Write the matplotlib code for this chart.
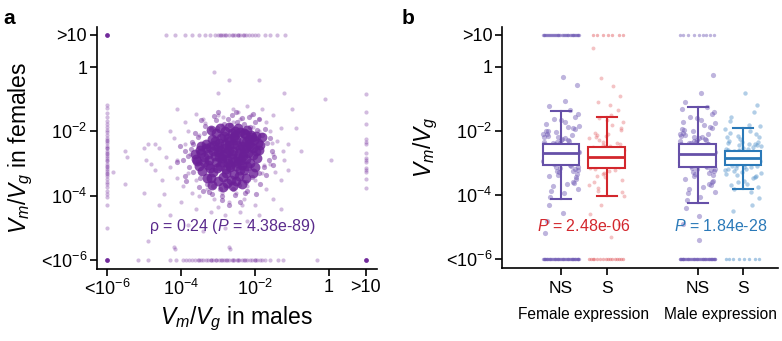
import matplotlib
matplotlib.use('Agg')
import matplotlib.pyplot as plt
import numpy as np

plt.rcParams['font.family'] = ['Liberation Sans', 'DejaVu Sans']
plt.rcParams['mathtext.fontset'] = 'custom'
plt.rcParams['mathtext.rm'] = 'Liberation Sans'
plt.rcParams['mathtext.it'] = 'Liberation Sans:italic'
plt.rcParams['mathtext.bf'] = 'Liberation Sans:bold'

# ---- panel a: log10(Vm/Vg), males (x) vs females (y); -6 = "<1e-6", 1 = ">10"
core_x = [-2.62, -2.41, -2.88, -2.15, -3.05, -2.53, -2.77, -2.24, -3.21, -1.98, -2.69, -2.36, -3.37, -2.92,
          -2.08, -2.57, -3.12, -1.86, -2.81, -2.46, -3.49, -2.19, -2.72, -3.01, -2.33, -2.61, -1.93, -3.28,
          -2.85, -2.29, -3.56, -2.49, -2.97, -2.12, -3.16, -2.67, -2.02, -3.42, -2.39, -2.78, -2.55, -3.09,
          -1.81, -2.25, -3.63, -2.93, -2.43, -2.71, -3.31, -2.05, -2.84, -3.19, -2.58, -2.31, -3.45, -2.95,
          -2.17, -2.64, -3.03, -1.91, -2.74, -2.47, -3.24, -2.21, -2.87, -3.52, -2.35, -2.06, -2.99, -2.51,
          -3.14, -2.79, -2.27, -3.38, -2.63, -1.88, -2.41, -3.07, -2.69, -2.13, -3.27, -2.90, -2.44, -2.56,
          -3.60, -2.01, -2.82, -3.22, -2.37, -2.68, -2.96, -2.23, -3.33, -2.52, -1.96, -2.76, -3.10, -2.30,
          -2.60, -3.46,
          -3.20, -2.95, -2.70, -2.45, -2.20, -3.05, -2.80, -2.55, -2.30, -2.10, -3.30, -3.00, -2.75, -2.50,
          -2.25, -3.15, -2.85, -2.60, -2.35, -2.05]
core_y = [-2.71, -2.55, -2.83, -2.38, -2.95, -2.12, -3.18, -2.86, -2.47, -2.61, -2.31, -3.04, -2.79, -2.19,
          -2.17, -3.32, -3.26, -2.42, -2.52, -2.83, -2.58, -2.68, -2.97, -2.64, -2.29, -2.04, -2.84, -3.05,
          -3.41, -3.21, -2.93, -2.41, -2.36, -2.99, -2.22, -3.12, -2.27, -3.22, -2.01, -2.67, -2.92, -2.77,
          -2.18, -2.51, -2.71, -3.07, -3.38, -2.43, -2.38, -2.53, -2.15, -3.44, -2.62, -2.76, -2.44, -2.58,
          -2.24, -3.51, -3.13, -2.35, -2.21, -2.97, -2.89, -3.09, -2.74, -3.08, -2.45, -2.74, -2.49, -2.28,
          -2.61, -3.28, -2.09, -2.96, -2.84, -2.59, -3.19, -2.29, -2.58, -2.45, -2.71, -2.94, -2.67, -2.18,
          -2.86, -3.11, -2.39, -3.15, -2.88, -3.03, -2.81, -2.32, -2.53, -3.06, -2.13, -2.87, -2.43, -2.64,
          -2.38, -2.67,
          -1.95, -1.88, -1.85, -1.90, -1.97, -2.05, -1.98, -2.00, -2.05, -2.10, -3.45, -3.55, -3.60, -3.55,
          -3.45, -3.68, -3.72, -3.70, -3.62, -3.30]
# fringe of the dense cloud
mid_x = [-3.72, -3.55, -3.81, -3.66, -3.48, -3.30, -3.12, -2.95, -2.78, -2.60, -2.42, -2.25, -2.08, -1.90,
         -1.74, -1.62, -1.55, -1.68, -1.80, -1.95, -2.12, -2.30, -2.48, -2.66, -2.84, -3.02, -3.20, -3.38,
         -3.55, -3.70, -3.88, -3.95, -3.40, -3.15, -2.90, -2.55, -2.20, -1.85, -1.70, -2.00, -2.35, -2.72,
         -3.05, -3.35, -3.62, -3.78, -4.02, -3.90, -1.48, -1.58, -2.15, -2.62, -3.10, -3.52, -1.72, -2.88,
         -3.25, -2.40, -1.98, -3.68, -4.10, -1.50, -2.50, -3.00, -3.85, -2.28, -1.88, -3.45, -2.70, -2.05]
mid_y = [-2.55, -2.95, -2.75, -3.25, -3.45, -3.62, -3.70, -3.78, -3.72, -3.80, -3.66, -3.58, -3.42, -3.30,
         -3.10, -2.88, -2.62, -2.35, -2.12, -1.95, -1.85, -1.78, -1.72, -1.80, -1.76, -1.88, -1.92, -2.05,
         -2.18, -2.32, -2.62, -2.88, -3.85, -3.95, -4.02, -3.98, -3.86, -3.62, -3.35, -1.70, -1.58, -1.60,
         -1.65, -1.82, -2.05, -3.12, -2.45, -3.40, -2.80, -2.20, -1.55, -1.48, -1.52, -3.72, -1.92, -4.12,
         -3.88, -4.18, -3.95, -2.40, -2.95, -3.05, -1.40, -1.40, -3.55, -3.90, -1.62, -1.65, -4.30, -1.45]
halo_x = [-3.9, -4.1, -3.8, -4.3, -3.95, -3.7, -4.5, -3.5, -3.3, -3.1, -2.9, -2.7, -2.5, -2.3, -2.2, -2.0,
          -1.8, -1.6, -1.5, -1.4, -1.6, -1.7, -1.9, -2.1, -2.4, -2.6, -2.9, -3.2, -3.5, -3.8, -4.2, -4.6,
          -4.4, -4.8, -4.0, -3.6, -3.2, -2.8, -2.4, -2.0, -1.7, -1.3, -1.2, -1.1, -1.3, -1.5, -1.8, -2.2,
          -2.6, -3.0, -3.4, -3.9, -1.0, -1.2, -3.0, -2.7, -1.9, -3.1, -4.1, -0.1, 0.05, -0.75, -0.9, -4.9,
          -4.7, -5.0, -4.3, -3.8, -3.4, -2.8, -2.2, -4.9, -4.2, -2.7, -1.9, -1.5, -3.6, -1.9, -3.35, -1.75,
          -4.1, -1.25, -2.35, -3.0, -4.45, -3.75, -1.55, -2.45, -2.85, -1.45, -4.6, -1.1, -2.05, -3.6, -1.3,
          -5.5, -5.45, -5.0, -4.7, -5.85, -5.5, -4.95, -4.3]
halo_y = [-2.4, -2.9, -3.3, -3.1, -3.7, -3.9, -3.5, -4.0, -3.8, -4.1, -3.9, -4.2, -3.9, -4.1, -3.7, -3.5,
          -3.3, -3.0, -2.7, -2.3, -2.0, -1.7, -1.6, -1.5, -1.6, -1.7, -1.8, -1.9, -2.1, -2.0, -2.2, -2.5,
          -2.8, -3.0, -4.2, -4.4, -4.5, -4.6, -4.5, -4.3, -3.8, -3.5, -2.9, -2.4, -1.9, -1.5, -1.3, -1.2,
          -1.3, -1.5, -1.6, -1.7, -1.3, -0.8, -0.8, -0.4, -0.4, -0.15, -1.3, -1.0, -2.9, -2.6, -1.9, -2.4,
          -3.2, -3.9, -4.6, -4.9, -5.1, -5.0, -4.8, -5.4, -5.6, -5.6, -4.6, -4.1, -3.5, -2.0, -1.75, -3.05,
          -3.45, -2.6, -4.3, -4.35, -3.95, -2.7, -2.35, -1.4, -1.55, -3.25, -4.3, -3.2, -1.85, -1.45, -4.4,
          -2.6, -2.8, -2.5, -2.4, -3.25, -3.65, -2.9, -2.0]
top_row_x = [-4.39, -4.16, -3.89, -3.71, -3.5, -3.35, -3.22, -3.08, -3.0, -2.92, -2.85, -2.78, -2.7, -2.62,
             -2.55, -2.47, -2.4, -2.32, -2.25, -2.17, -2.09, -2.0, -1.91, -1.73, -1.59, -1.41, -1.19,
             -2.95, -2.8, -2.6, -2.45, -2.3]
bottom_row_x = [-5.15, -4.88, -4.30, -4.12, -3.94, -3.85, -3.77, -3.7, -3.62, -3.55, -3.47, -3.4, -3.33,
                -3.26, -3.19, -3.12, -3.05, -2.98, -2.91, -2.84, -2.77, -2.7, -2.63, -2.56, -2.49, -2.42,
                -2.35, -2.28, -2.21, -2.14, -2.07, -2.0, -1.93, -1.86, -1.8, -1.73, -1.59, -1.38, -1.24,
                -0.31, -3.5, -3.2, -2.9, -2.6, -2.3, -2.0, -2.75, -3.05, -2.45]
above_bottom_x = [-4.16, -2.68]
above_bottom_y = [-5.67, -5.67]
left_col_y = [-1.18, -1.27, -1.43, -1.55, -1.66, -1.78, -1.86, -1.95, -2.03, -2.12, -2.2, -2.28, -2.36,
              -2.44, -2.52, -2.6, -2.68, -2.76, -2.84, -2.92, -3.0, -3.08, -3.16, -3.24, -3.32, -3.4, -3.48,
              -3.56, -3.64, -3.73, -3.85, -3.95, -4.04, -4.29, -5.0, -2.3, -2.5, -2.7, -2.9, -3.1, -3.3]
right_col_y = [-0.84, -1.41, -1.78, -2.24, -2.32, -2.39, -2.67, -2.83, -2.89, -2.95, -3.14, -3.2, -3.26,
               -3.48, -3.76]
corner_x = [-6, -6, 1]
corner_y = [1, -6, -6]

# ---- panel b: groups, box statistics (log10) and jittered points
groups = ['NS', 'S', 'NS', 'S']
positions = [1, 2, 4, 5]
whis_hi = [-1.39, -1.56, -1.26, -1.92]
q3 = [-2.40, -2.51, -2.40, -2.62]
med = [-2.70, -2.80, -2.72, -2.84]
q1 = [-3.07, -3.15, -3.13, -3.07]
whis_lo = [-4.11, -4.03, -4.25, -3.80]
top_counts = [40, 7, 9, 0]
bottom_counts = [50, 16, 50, 8]

ns_f_y = [-2.71, -2.45, -2.93, -2.18, -3.21, -2.62, -2.84, -2.33, -3.05, -2.57, -1.95, -3.42, -2.76, -2.51,
          -2.12, -3.15, -2.66, -2.39, -2.98, -1.78, -3.63, -2.88, -2.27, -2.55, -3.33, -2.04, -2.69, -2.41,
          -3.09, -1.62, -3.82, -2.8, -2.22, -2.6, -3.26, -2.47, -1.88, -2.95, -3.51, -2.35, -2.74, -2.08,
          -3.01, -2.53, -1.48, -4.05, -2.64, -2.29, -3.18, -2.86, -1.71, -3.72, -2.43, -2.15, -2.91, -3.37,
          -2.58, -1.99, -2.78, -3.12, -2.25, -4.32, -1.35, -2.68, -3.45, -2.37, -2.83, -2.01, -3.58, -2.49,
          -1.83, -3.24, -2.72, -2.19, -3.94, -2.6, -1.56, -3.03, -2.31, -2.89, -4.55, -1.21, -2.66, -3.29,
          -2.44, -2.1, -3.67, -2.76, -1.92, -2.97, -0.55, -4.8, -1.05, -3.88, -2.52, -1.67, -3.14, -2.4,
          -0.3, -5.2]
s_f_y = [-2.8, -2.52, -3.11, -2.34, -2.97, -3.4, -2.65, -2.21, -3.22, -2.73, -1.98, -3.6, -2.46, -2.88,
         -3.05, -2.15, -2.59, -3.78, -1.82, -2.95, -2.4, -3.3, -2.7, -2.05, -3.52, -2.61, -1.65, -3.15,
         -2.83, -2.28, -4.02, -2.5, -1.5, -3.45, -2.92, -2.12, -2.77, -3.68, -1.9, -2.43, -3.25, -2.66,
         -1.35, -4.3, -2.85, -2.19, -3.0, -2.55, -0.9, -4.6, -1.2, -3.88, -2.37, -2.99, -1.72, -3.35, -0.6,
         -2.62, -4.9, -0.35, -2.08, -3.18, -2.74, -1.58, -3.92, -2.47, -5.3, 0.6, -2.9, -1.1]
ns_m_y = [-2.72, -2.48, -2.96, -2.2, -3.25, -2.6, -2.87, -2.3, -3.1, -2.55, -1.9, -3.5, -2.78, -2.45,
          -2.1, -3.2, -2.66, -2.36, -3.02, -1.72, -3.7, -2.9, -2.25, -2.52, -3.38, -2.0, -2.7, -2.4,
          -3.14, -1.55, -3.9, -2.82, -2.18, -2.62, -3.3, -2.44, -1.82, -2.98, -3.6, -2.32, -2.76, -2.05,
          -3.06, -2.5, -1.4, -4.15, -2.64, -2.27, -3.22, -2.88, -1.65, -3.8, -2.42, -2.12, -2.94, -3.42,
          -2.56, -1.95, -2.8, -3.16, -2.22, -4.4, -1.25, -2.68, -3.55, -2.34, -2.85, -1.98, -3.66, -2.47,
          -1.76, -3.28, -2.74, -2.15, -4.05, -2.58, -1.48, -3.08, -2.28, -2.92, -4.65, -1.1, -2.65, -3.34,
          -2.4, -2.08, -3.75, -2.79, -1.88, -3.0, -0.25, -4.9, -0.8, -3.95, -2.54, -1.6, -3.18, -2.38,
          -5.4, -1.3]
s_m_y = [-2.84, -2.7, -3.0, -2.62, -2.95, -2.77, -3.12, -2.55, -2.88, -3.05, -2.45, -2.81, -3.2, -2.68,
         -2.91, -2.35, -3.3, -2.74, -2.99, -2.58, -3.42, -2.25, -2.86, -3.09, -2.66, -2.15, -3.55, -2.79,
         -2.5, -3.15, -2.93, -2.05, -3.65, -2.72, -2.4, -3.25, -2.83, -1.95, -3.75, -2.6, -3.02, -2.3,
         -2.89, -3.38, -1.85, -2.76, -3.9, -2.52, -3.08, -2.2, -2.97, -2.64, -3.48, -1.7, -4.1, -2.8,
         -2.42, -3.18, -2.1, -3.6, -2.71, -1.55, -4.3, -2.87, -2.33, -3.28, -2.57, -3.0, -1.4, -3.82,
         -2.48, -2.92, -2.0, -3.35, -2.78, -4.5, -1.2, -2.65, -3.12, -2.38, -0.8, -3.7, -2.18, -2.96,
         -2.61, -3.22, -1.8, -2.85, -3.45, -2.44]
jitter = [0.12, -0.31, 0.27, -0.08, 0.36, -0.22, 0.03, -0.38, 0.19, -0.14, 0.31, -0.27, 0.07, -0.35, 0.23,
          -0.02, 0.39, -0.18, 0.11, -0.33, 0.29, -0.06, 0.16, -0.25, 0.34, -0.11, 0.01, -0.37, 0.21, -0.16,
          0.38, -0.29, 0.09, -0.04, 0.26, -0.21, 0.14, -0.39, 0.32, -0.09, 0.05, -0.32, 0.24, -0.13, 0.37,
          -0.24, 0.17, -0.01, 0.3, -0.36, 0.08, -0.19, 0.22, -0.28, 0.35, -0.07, 0.13, -0.34, 0.28, -0.12,
          0.02, -0.26, 0.2, -0.17, 0.33, -0.03, 0.1, -0.3, 0.25, -0.2, 0.39, -0.1, 0.15, -0.37, 0.06, -0.23,
          0.31, -0.15, 0.18, -0.33, 0.04, -0.27, 0.36, -0.05, 0.22, -0.39, 0.12, -0.18, 0.27, -0.09, 0.34,
          -0.31, 0.08, -0.22, 0.19, -0.01, 0.38, -0.14, 0.03, -0.35]
p_labels = ['2.48e-06', '1.84e-28']

purple = '#6a1f96'
bpurple = '#6650a8'
red = '#d3272d'
blue = '#2a79b8'
box_colors = [bpurple, red, bpurple, blue]
point_colors = ['#6f5ab5', '#e0555a', '#6f5ab5', '#3f86c4']
point_alpha = [0.45, 0.35, 0.45, 0.4]
point_size = [14, 8, 14, 10]

ticks_y = [1, 0, -2, -4, -6]
tick_lbls = ['>10', '1', r'$10^{-2}$', r'$10^{-4}$', r'<$10^{-6}$']
ticks_x = [-6, -4, -2, 0, 1]
tick_lbls_x = [r'<$10^{-6}$', r'$10^{-4}$', r'$10^{-2}$', '1', '>10']

fig = plt.figure(figsize=(7.82, 3.41), dpi=100)
ax = fig.add_axes([0.124, 0.211, 0.358, 0.710])
bx = fig.add_axes([0.642, 0.214, 0.353, 0.707])

for a in (ax, bx):
    for s in ('top', 'right'):
        a.spines[s].set_visible(False)
    for s in ('left', 'bottom'):
        a.spines[s].set_linewidth(1.2)
    a.tick_params(direction='out', length=5, width=1.2, labelsize=13, pad=2)
    a.set_ylim(-6.28, 1.25)
    a.set_yticks(ticks_y)
    a.set_yticklabels(tick_lbls)

# panel a
ax.scatter(halo_x, halo_y, s=9, color=purple, alpha=0.3, lw=0)
ax.scatter(mid_x, mid_y, s=14, color=purple, alpha=0.45, lw=0)
ax.scatter(core_x, core_y, s=50, color=purple, alpha=0.8, lw=0)
ax.scatter(top_row_x, [1] * len(top_row_x), s=9, color=purple, alpha=0.3, lw=0, clip_on=False)
ax.scatter(bottom_row_x, [-6] * len(bottom_row_x), s=9, color=purple, alpha=0.3, lw=0)
ax.scatter(above_bottom_x, above_bottom_y, s=9, color=purple, alpha=0.3, lw=0)
ax.scatter([-6] * len(left_col_y), left_col_y, s=9, color=purple, alpha=0.3, lw=0)
ax.scatter([1] * len(right_col_y), right_col_y, s=9, color=purple, alpha=0.3, lw=0)
ax.scatter(corner_x, corner_y, s=12, color=purple, alpha=0.95, lw=0)
ax.set_xlim(-6.27, 1.3)
ax.set_xticks(ticks_x)
ax.set_xticklabels(tick_lbls_x)
ax.set_xlabel(r'$V_m/V_g$ in males', fontsize=16.5, labelpad=4)
ax.set_ylabel(r'$V_m/V_g$ in females', fontsize=16.5, labelpad=4)
ax.text(-2.6, -4.97, r'ρ = 0.24 ($P$ = 4.38e-89)', color='#5a2a8c', fontsize=11.5,
        ha='center', va='center')
fig.text(0.004, 0.975, 'a', fontsize=15, fontweight='bold', va='top')

# panel b
groups_y = [ns_f_y, s_f_y, ns_m_y, s_m_y]
for i, (pos, ys) in enumerate(zip(positions, groups_y)):
    xs = [pos + j for j in jitter[:len(ys)]]
    bx.scatter(xs, ys, s=point_size[i], color=point_colors[i], alpha=point_alpha[i], lw=0, zorder=1)
    tx = [pos + j for j in jitter[:top_counts[i]]]
    bx.scatter(tx, [1] * len(tx), s=6, color=point_colors[i], alpha=0.45, lw=0, zorder=1)
    bo = [pos + j for j in jitter[:bottom_counts[i]]]
    bx.scatter(bo, [-6] * len(bo), s=6, color=point_colors[i], alpha=0.45, lw=0, zorder=1)

stats = []
for i in range(len(positions)):
    stats.append({'med': med[i], 'q1': q1[i], 'q3': q3[i], 'whislo': whis_lo[i],
                  'whishi': whis_hi[i], 'fliers': []})
art = bx.bxp(stats, positions=positions, widths=0.8, capwidths=0.44, patch_artist=True,
             showfliers=False, manage_ticks=False)
for i in range(len(positions)):
    c = box_colors[i]
    art['boxes'][i].set(facecolor='white', edgecolor=c, linewidth=1.5, zorder=3)
    art['medians'][i].set(color=c, linewidth=2.0, zorder=4)
    for w in art['whiskers'][2 * i:2 * i + 2]:
        w.set(color=c, linewidth=1.5, zorder=2)
    for cp in art['caps'][2 * i:2 * i + 2]:
        cp.set(color=c, linewidth=1.5, zorder=2)

bx.set_xlim(-0.3, 5.77)
bx.set_xticks(positions)
bx.set_xticklabels(groups)
bx.tick_params(axis='x', labelsize=12.5, pad=4)
bx.set_ylabel(r'$V_m/V_g$', fontsize=16.5, labelpad=4)
bx.text(1.5, -4.97, r'$P$ = ' + p_labels[0], color=red, fontsize=11.5, ha='center', va='center')
bx.text(4.5, -4.97, r'$P$ = ' + p_labels[1], color=blue, fontsize=11.5, ha='center', va='center')
bx.text(1.5, -7.72, 'Female expression', fontsize=11.2, ha='center', va='center')
bx.text(4.5, -7.72, 'Male expression', fontsize=11.2, ha='center', va='center')
fig.text(0.513, 0.975, 'b', fontsize=15, fontweight='bold', va='top')

fig.savefig('out.png', dpi=100)
